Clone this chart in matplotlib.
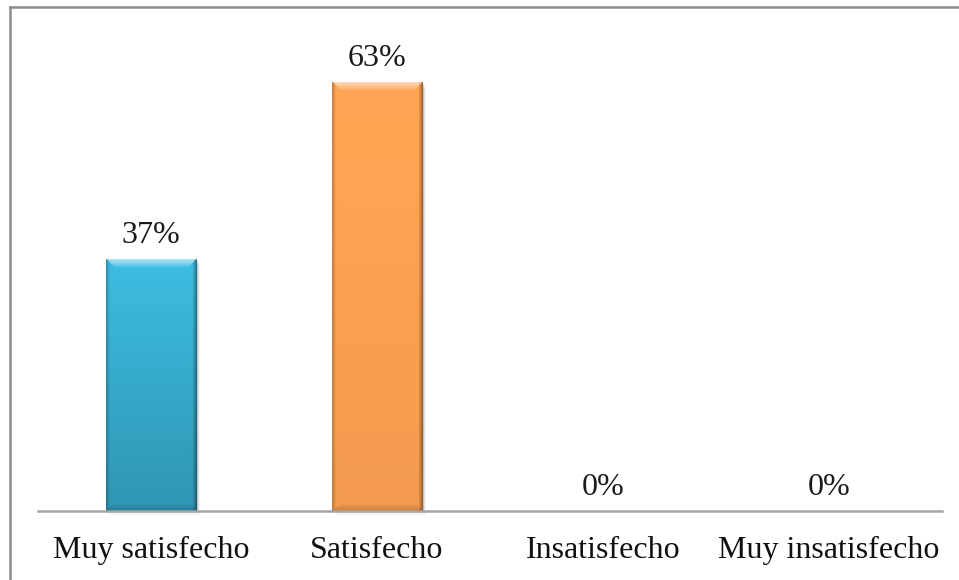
import numpy as np
import matplotlib
matplotlib.use("Agg")
import matplotlib.pyplot as plt
from matplotlib.lines import Line2D
from matplotlib.colors import to_rgb

categories = ["Muy satisfecho", "Satisfecho", "Insatisfecho", "Muy insatisfecho"]
values = [37, 63, 0, 0]
value_labels = ["37%", "63%", "0%", "0%"]
bar_colors = ["#3BB8DC", "#FBA052", "#4F81BD", "#9BBB59"]
bar_shading = [0.22, 0.06, 0.1, 0.1]

plt.rcParams["font.family"] = ["Liberation Serif", "DejaVu Serif"]

fig = plt.figure(figsize=(9.59, 5.80), dpi=100)
fig.patch.set_facecolor("white")
ax = fig.add_axes([38 / 959, 69 / 580, 904 / 959, 477 / 580])

x = np.arange(len(categories))
bars = ax.bar(x, values, width=0.40, color=bar_colors, zorder=2)

ax.set_xlim(-0.5, len(categories) - 0.5)
ax.set_ylim(0, 70)

PX_PER_UNIT = 477 / 70
PX_PER_X = 904 / 4


def shade(bar, base, grad):
    """Bevelled fill: darker sides and bottom, light top edge."""
    h = bar.get_height()
    if h <= 0:
        return
    x0 = bar.get_x()
    w = bar.get_width()
    px_h = h * PX_PER_UNIT
    px_w = w * PX_PER_X
    ny, nx = int(round(px_h)), int(round(px_w))
    xx = (np.arange(nx) + 0.5)[None, :]           # px from left
    yy = (np.arange(ny) + 0.5)[:, None]           # px from top
    base = np.array(to_rgb(base))
    img = np.ones((ny, nx, 3)) * base
    # vertical gradient: lighter at top, darker towards the bottom
    vert = 1.03 - grad * (yy / px_h)
    img = img * vert[..., None]
    # darker narrow side edges (stronger on the right)
    dl = xx
    dr = px_w - xx
    side = (1 - 0.25 * np.clip(1 - dl / 4, 0, 1)) * (1 - 0.45 * np.clip(1 - dr / 5, 0, 1))
    img = img * side[..., None]
    dx = np.minimum(dl, dr)
    # light trapezoid bevel at the top
    bevel = 9.0
    top = (yy < bevel) & (dx > yy * 0.95)
    amt = 0.55 * (1 - yy / bevel) + 0.1
    img = np.where(top[..., None], img + (1 - img) * amt[..., None], img)
    # thin darker line along the top edge
    img[0, :, :] *= 0.85
    # dark bevel at the bottom
    yb = px_h - yy
    bot = (yb < 8) & (dx > yb * 0.95)
    img = np.where(bot[..., None], img * (1 - 0.18 * (1 - yb / 8))[..., None], img)
    img = np.clip(img, 0, 1)
    im = ax.imshow(img, extent=(x0, x0 + w, 0, h), aspect="auto",
                   interpolation="bilinear", zorder=3)
    im.set_clip_path(bar)
    # soft shadow to the right and below
    for k, a in enumerate([0.14, 0.08, 0.04]):
        off = 1.3 * (k + 1) / PX_PER_X
        ax.bar(x0 + w / 2 + off, h - 1.0 * (k + 1) / PX_PER_UNIT, width=w,
               bottom=-1.2 * (k + 1) / PX_PER_UNIT, color="black", alpha=a,
               zorder=1, linewidth=0, clip_on=False)


for b, c, g in zip(bars, bar_colors, bar_shading):
    shade(b, c, g)

for xi, v, lab in zip(x, values, value_labels):
    ax.annotate(lab, (xi, v), xytext=(0, 6.5), textcoords="offset points",
                ha="center", va="bottom", fontsize=23, color="#1a1a1a")

ax.set_xticks(x)
ax.set_xticklabels(categories, fontsize=23, color="#111111")
ax.tick_params(axis="x", length=0, pad=18)
ax.set_yticks([])
for s in ["top", "right", "left"]:
    ax.spines[s].set_visible(False)
ax.spines["bottom"].set_color("#a6a6a6")
ax.spines["bottom"].set_linewidth(1.8)
ax.spines["bottom"].set_zorder(4)

# outer frame (top and left edges)
fig.add_artist(Line2D([9.5 / 959, 1.0], [1 - 6.5 / 580, 1 - 6.5 / 580],
                      transform=fig.transFigure, color="#8c8c8c", linewidth=1.8))
fig.add_artist(Line2D([9.5 / 959, 9.5 / 959], [0.0, 1 - 6.5 / 580],
                      transform=fig.transFigure, color="#8c8c8c", linewidth=1.8))

fig.savefig("out.png", dpi=100, facecolor="white")
